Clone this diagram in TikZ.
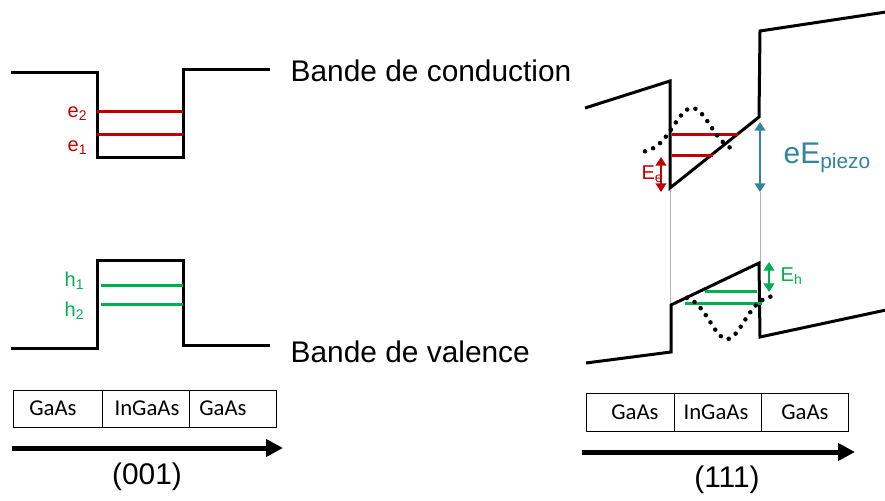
\documentclass[tikz,border=0pt]{standalone}
\usepackage{fontspec}
\setmainfont{Liberation Sans}
\newfontfamily\cellfont{Carlito}
\usetikzlibrary{arrows.meta}
\definecolor{bandred}{RGB}{192,0,0}
\definecolor{bandgreen}{RGB}{0,176,80}
\definecolor{piezoteal}{RGB}{49,132,155}
\tikzset{
  band/.style={line width=2.25pt,line join=miter},
  level/.style={line width=2.25pt},
  wave/.style={line width=3.4pt,line cap=round,dash pattern=on 0pt off 6.5pt},
  guide/.style={gray!60,line width=0.4pt},
  gap/.style={<->,line width=1.9pt},
  axis/.style={line width=3.75pt,-{Triangle[length=12.75pt,width=12.75pt]}},
  layer/.style={font=\cellfont\fontsize{17}{20}\selectfont},
  big/.style={font=\fontsize{22.4}{26}\selectfont},
  small/.style={font=\fontsize{15}{18}\selectfont}
}
\begin{document}
\begin{tikzpicture}[x=0.75pt,y=-0.75pt,>={Triangle[length=6.5pt,width=8pt]}]
\useasboundingbox (0,0) rectangle (885,500);
% (001): square well
\draw[band] (11,72)--(97,72)--(97,157)--(183,157)--(183,69)--(270,69);
\draw[band] (11,348)--(97,348)--(97,260)--(183,260)--(183,345)--(270,345);
\draw[level,bandred] (97,111)--(183,111) (97,134)--(183,134);
\draw[level,bandgreen] (101,285)--(183,285) (101,304)--(183,304);
\node[small,text=bandred,anchor=east] (e2) at (92,114) {e\textsubscript{2}};
\node[small,text=bandred,anchor=east] (e1) at (92,148) {e\textsubscript{1}};
\node[small,text=bandgreen,anchor=east] (h1) at (89,281) {h\textsubscript{1}};
\node[small,text=bandgreen,anchor=east] (h2) at (89,311) {h\textsubscript{2}};
\node[big,anchor=west] (cb) at (286,71) {Bande de conduction};
\node[big,anchor=west] (vb) at (286,352) {Bande de valence};
% (111): tilted well
\draw[guide] (670,190)--(670,305) (760,192)--(760,263);
\draw[band] (585,108)--(670,81)--(670,188)--(759,117)--(760,31)--(886,12);
\draw[band] (586,363)--(671,352)--(671,305)--(759,263)--(760,337)--(886,310);
\draw[level,bandred] (672,134)--(738,134) (672,155)--(713,155);
\draw[level,bandgreen] (705,291)--(757,291) (685,303)--(762,303);
\draw[wave] plot[smooth,domain=645:735,samples=60] (\x,{153-45*exp(-((\x-692)/26)^2)});
\draw[wave] plot[smooth,domain=687:775,samples=60] (\x,{295+44*exp(-((\x-727)/24)^2)});
\node[small,text=bandred,anchor=east] (ee) at (668,174) {E\textsubscript{e}};
\draw[gap,bandred] (661,157)--(661,192);
\draw[gap,piezoteal] (760,122)--(760,192);
\node[big,text=piezoteal,anchor=west] (piezo) at (779,158) {eE\textsubscript{piezo}};
\draw[gap,bandgreen] (769,262)--(769,292);
\node[small,text=bandgreen,anchor=west] (eh) at (776,276) {E\textsubscript{h}};
% layers and growth axes
\draw[line width=0.75pt] (13,390) rectangle (276,427) (102,390)--(102,427) (189,390)--(189,427);
\node[layer] (gaasA) at (53,408) {GaAs};
\node[layer] (ingaasA) at (147,408) {InGaAs};
\node[layer] (gaasB) at (223,408) {GaAs};
\coordinate (axA) at (12,448);
\coordinate (axB) at (283,448);
\draw[axis] (axA)--(axB);
\node[big] (dirA) at (147,477) {(001)};
\draw[line width=0.75pt] (586,393) rectangle (848,431) (674,393)--(674,431) (761,393)--(761,431);
\node[layer] (gaasC) at (635,412) {GaAs};
\node[layer] (ingaasC) at (716,412) {InGaAs};
\node[layer] (gaasD) at (805,412) {GaAs};
\coordinate (axC) at (582,452);
\coordinate (axD) at (855,452);
\draw[axis] (axC)--(axD);
\node[big] (dirB) at (727,480) {(111)};
\end{tikzpicture}
\end{document}
